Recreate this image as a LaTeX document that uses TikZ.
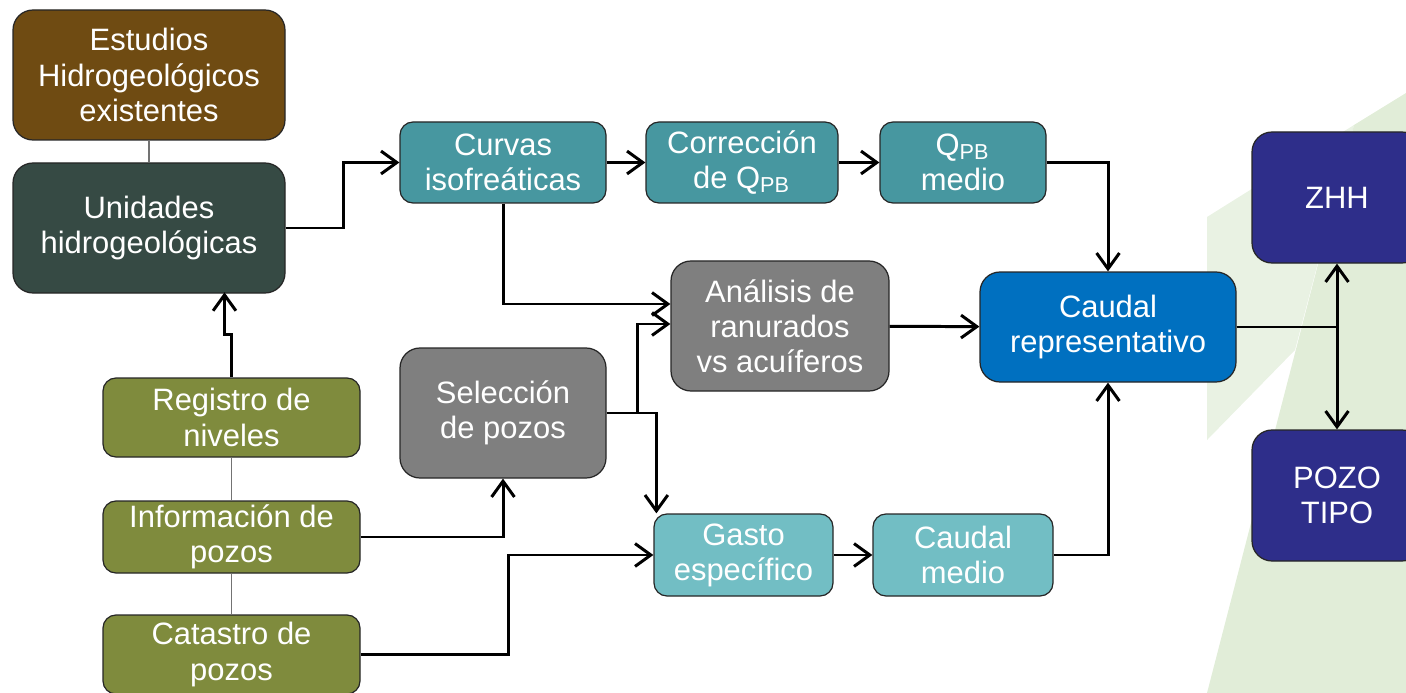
\documentclass[tikz,border=0pt]{standalone}
\usepackage{fontspec}
\setmainfont{Liberation Sans}
\usetikzlibrary{arrows.meta}
\definecolor{cafe}{HTML}{6F4B12}
\definecolor{pizarra}{HTML}{364A44}
\definecolor{turquesa}{HTML}{4797A0}
\definecolor{turquesaclaro}{HTML}{72BEC4}
\definecolor{gris}{HTML}{7F7F7F}
\definecolor{azul}{HTML}{0070C0}
\definecolor{marino}{HTML}{2E2E8A}
\definecolor{oliva}{HTML}{7F8B3D}
\definecolor{fondoA}{HTML}{E9F2E3}
\definecolor{fondoB}{HTML}{E1EDD8}
\begin{document}
\begin{tikzpicture}[
        caja/.style={draw=black!85, line width=0.35pt, text=white, align=center, inner sep=0pt,
            rounded corners=0.2cm, font=\fontsize{8.8}{10}\selectfont},
        cajita/.style={caja, rounded corners=0.13cm},
        flecha/.style={-{Straight Barb[length=4.5pt, width=6.5pt]}, line width=0.85pt},
        enlace/.style={draw=black!55, line width=0.3pt}
    ]
        \useasboundingbox (0, 0) rectangle (14.06, -6.93);
        \clip (0, 0) rectangle (14.06, -6.93);
        \fill[fondoA] (12.07, -2.17) -- (13.54, -1.25) -- (12.95, -3.5) -- (12.07, -4.4) -- cycle;
        \fill[fondoB] (13.54, -1.25) -- (14.06, -0.93) -- (14.06, -6.93) -- (12.07, -6.93) -- cycle;
        \node[caja, fill=cafe, minimum width=2.72cm, minimum height=1.30cm] (estudios) at (1.49, -0.75) {Estudios\\Hidrogeológicos\\existentes};
        \node[caja, fill=pizarra, minimum width=2.72cm, minimum height=1.30cm] (unidades) at (1.49, -2.28) {Unidades\\hidrogeológicas};
        \node[cajita, fill=turquesa, minimum width=2.06cm, minimum height=0.81cm] (curvas) at (5.03, -1.625) {Curvas\\isofreáticas};
        \node[cajita, fill=turquesa, minimum width=1.92cm, minimum height=0.81cm] (correccion) at (7.42, -1.625) {Corrección\\de Q\textsubscript{PB}};
        \node[cajita, fill=turquesa, minimum width=1.66cm, minimum height=0.81cm] (qpb) at (9.63, -1.625) {Q\textsubscript{PB}\\medio};
        \node[caja, fill=marino, minimum width=1.70cm, minimum height=1.31cm] (zhh) at (13.37, -1.975) {ZHH};
        \node[caja, fill=gris, minimum width=2.18cm, minimum height=1.30cm] (analisis) at (7.80, -3.26) {Análisis de\\ranurados\\vs acuíferos};
        \node[caja, fill=azul, minimum width=2.56cm, minimum height=1.10cm] (caudalrep) at (11.08, -3.27) {Caudal\\representativo};
        \node[caja, fill=gris, minimum width=2.06cm, minimum height=1.30cm] (seleccion) at (5.03, -4.13) {Selección\\de pozos};
        \node[cajita, fill=oliva, minimum width=2.57cm, minimum height=0.79cm] (registro) at (2.315, -4.175) {Registro de\\niveles};
        \node[cajita, fill=oliva, minimum width=2.57cm, minimum height=0.72cm] (informacion) at (2.315, -5.37) {Información de\\pozos};
        \node[cajita, fill=oliva, minimum width=2.57cm, minimum height=0.79cm] (catastro) at (2.315, -6.545) {Catastro de\\pozos};
        \node[cajita, fill=turquesaclaro, minimum width=1.79cm, minimum height=0.82cm] (gasto) at (7.435, -5.55) {Gasto\\específico};
        \node[cajita, fill=turquesaclaro, minimum width=1.80cm, minimum height=0.82cm] (caudalmed) at (9.63, -5.55) {Caudal\\medio};
        \node[caja, fill=marino, minimum width=1.70cm, minimum height=1.31cm] (pozo) at (13.37, -4.955) {POZO\\TIPO};

        \draw[enlace] (estudios) -- (unidades);
        \draw[enlace] (registro) -- (informacion);
        \draw[enlace] (informacion) -- (catastro);

        \draw[flecha] (unidades.east) -- ++(0.58, 0) |- (curvas.west);
        \draw[flecha] (curvas) -- (correccion);
        \draw[flecha] (correccion) -- (qpb);
        \draw[flecha] (qpb.east) -| (caudalrep.north);
        \draw[flecha] (curvas.south) |- ([yshift=0.22cm]analisis.west);
        \draw[flecha] (seleccion.east) -- ++(0.31, 0) |- ([yshift=0.02cm]analisis.west);
        \draw[flecha] (seleccion.east) -| ([xshift=0.03cm]gasto.north west);
        \draw[flecha] (analisis) -- (caudalrep);
        \draw[flecha] (caudalmed.east) -| (caudalrep.south);
        \draw[flecha] (caudalrep.east) -| (zhh.south);
        \draw[flecha] (caudalrep.east) -| (pozo.north);
        \draw[flecha] (registro.north) -- ++(0, 0.43) -- ++(-0.07, 0) -- ++(0, 0.42);
        \draw[flecha] (informacion.east) -| (seleccion.south);
        \draw[flecha] (catastro.east) -- ++(1.48, 0) |- (gasto.west);
        \draw[flecha] (gasto) -- (caudalmed);
    \end{tikzpicture}
\end{document}
